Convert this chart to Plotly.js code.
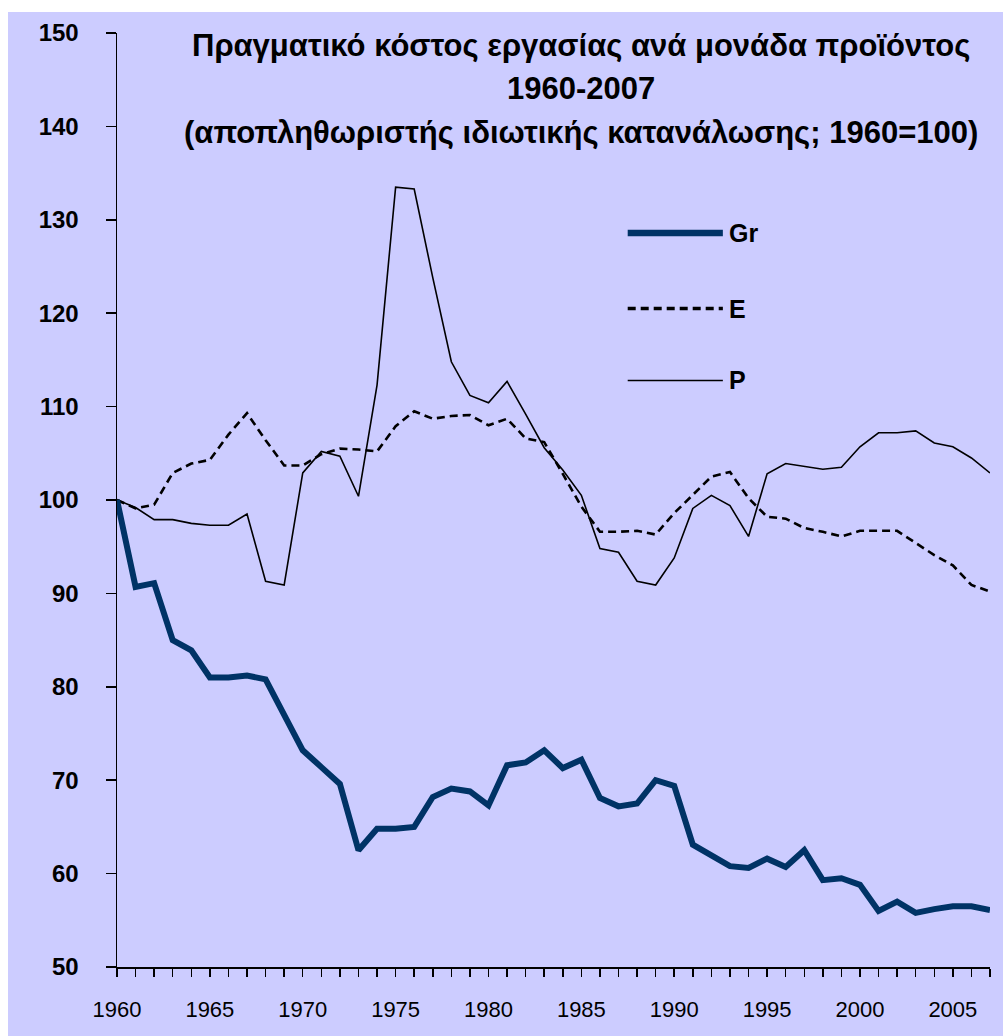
<!DOCTYPE html>
<html>
<head>
<meta charset="utf-8">
<script src="https://cdn.plot.ly/plotly-3.0.1.min.js"></script>
<style>
  html, body { margin: 0; padding: 0; background: #ffffff; }
  #chart { position: absolute; left: 8px; top: 12px; width: 995px; height: 1024px; }
</style>
</head>
<body>
<div id="chart"></div>
<script>
// ---- data ----
const years = [];
for (let y = 1960; y <= 2007; y++) years.push(y);

const seriesNames = ["Gr", "E", "P"];

const grValues = [
  100, 90.7, 91.1, 85.0, 83.9, 81.0, 81.0, 81.2, 80.8, 77.0,
  73.2, 71.4, 69.6, 62.5, 64.8, 64.8, 65.0, 68.2, 69.1, 68.8,
  67.3, 71.6, 71.9, 73.2, 71.3, 72.2, 68.1, 67.2, 67.5, 70.0,
  69.4, 63.1, 62.0, 60.8, 60.6, 61.6, 60.7, 62.5, 59.3, 59.5,
  58.8, 56.0, 57.0, 55.8, 56.2, 56.5, 56.5, 56.1
];

const eValues = [
  100, 99.1, 99.5, 102.9, 103.9, 104.3, 107.0, 109.3, 106.4, 103.7,
  103.7, 104.9, 105.5, 105.4, 105.2, 107.9, 109.5, 108.7, 109.0, 109.1,
  108.0, 108.7, 106.6, 106.2, 102.8, 99.3, 96.6, 96.6, 96.7, 96.3,
  98.6, 100.5, 102.5, 103.0, 100.2, 98.2, 98.0, 97.0, 96.6, 96.1,
  96.7, 96.7, 96.7, 95.4, 94.1, 93.0, 90.9, 90.2
];

const pValues = [
  100, 99.2, 97.9, 97.9, 97.5, 97.3, 97.3, 98.5, 91.3, 90.9,
  102.9, 105.2, 104.7, 100.4, 112.3, 133.5, 133.3, 123.8, 114.8, 111.2,
  110.4, 112.7, 109.2, 105.6, 103.2, 100.5, 94.8, 94.4, 91.3, 90.9,
  93.8, 99.1, 100.5, 99.4, 96.1, 102.8, 103.9, 103.6, 103.3, 103.5,
  105.7, 107.2, 107.2, 107.4, 106.1, 105.7, 104.5, 102.9
];

const xTickVals = [1960, 1965, 1970, 1975, 1980, 1985, 1990, 1995, 2000, 2005];
const yTickVals = [50, 60, 70, 80, 90, 100, 110, 120, 130, 140, 150];

const titleLines = [
  "Πραγματικό κόστος εργασίας ανά μονάδα προϊόντος",
  "1960-2007",
  "(αποπληθωριστής ιδιωτικής κατανάλωσης; 1960=100)"
];

// ---- styles ----
const NAVY = "#003366";
const BG = "#CCCCFF";
const FONT = "Liberation Sans, Arial, sans-serif";

const lineStyles = {
  Gr: { color: NAVY, width: 6, dash: "solid" },
  E:  { color: "#000000", width: 2.6, dash: "8px,5px" },
  P:  { color: "#000000", width: 1.6, dash: "solid" }
};
const legendWidths = { Gr: 6.5, E: 3.5, P: 1.6 };
const valuesByName = { Gr: grValues, E: eValues, P: pValues };

const traces = ["P", "E", "Gr"].map(name => ({
  type: "scatter",
  mode: "lines",
  name: name,
  x: years,
  y: valuesByName[name],
  line: Object.assign({ shape: "linear" }, lineStyles[name]),
  showlegend: false,
  hoverinfo: "x+y+name"
}));

// manual legend (long sample lines as in the reference)
const legendY = { Gr: 0.786, E: 0.705, P: 0.628 };
const shapes = [];
const annotations = [];
seriesNames.forEach(name => {
  const st = lineStyles[name];
  shapes.push({
    type: "line", xref: "paper", yref: "paper",
    x0: 0.585, x1: 0.694, y0: legendY[name], y1: legendY[name],
    line: { color: st.color, width: legendWidths[name], dash: st.dash }
  });
  annotations.push({
    xref: "paper", yref: "paper", x: 0.699, y: legendY[name],
    xanchor: "left", yanchor: "middle", showarrow: false,
    text: name,
    font: { family: FONT, size: 25, weight: "bold", color: "#000000" }
  });
});

// title lines
const titleY = [0.987, 0.941, 0.893];
titleLines.forEach((t, i) => {
  annotations.push({
    xref: "paper", yref: "paper", x: 0.532, y: titleY[i],
    xanchor: "center", yanchor: "middle", showarrow: false,
    text: t,
    font: { family: FONT, size: 31, weight: "bold", color: "#000000" }
  });
});

const layout = {
  width: 995,
  height: 1024,
  paper_bgcolor: BG,
  plot_bgcolor: BG,
  margin: { l: 109, r: 13, t: 21, b: 69, pad: 0 },
  showlegend: false,
  font: { family: FONT, color: "#000000" },
  xaxis: {
    range: [1960, 2007],
    tickmode: "array",
    tickvals: xTickVals,
    ticktext: xTickVals.map(String),
    ticks: "outside",
    ticklen: 8,
    tickwidth: 1.5,
    tickcolor: "#000000",
    minor: { dtick: 1, tick0: 1960, ticks: "outside", ticklen: 8, tickwidth: 1.5, tickcolor: "#000000", showgrid: false },
    showline: true,
    linecolor: "#000000",
    linewidth: 1.5,
    showgrid: false,
    zeroline: false,
    ticklabelstandoff: 14,
    tickfont: { family: FONT, size: 22, color: "#000000" }
  },
  yaxis: {
    range: [50, 150],
    tickmode: "array",
    tickvals: yTickVals,
    ticktext: yTickVals.map(String),
    ticks: "outside",
    ticklen: 10,
    tickwidth: 1.5,
    tickcolor: "#000000",
    showline: true,
    linecolor: "#000000",
    linewidth: 1.5,
    showgrid: false,
    zeroline: false,
    ticklabelstandoff: 22,
    tickfont: { family: FONT, size: 24, weight: "bold", color: "#000000" }
  },
  shapes: shapes,
  annotations: annotations
};

Plotly.newPlot("chart", traces, layout, { displayModeBar: false, staticPlot: true });
</script>
</body>
</html>
